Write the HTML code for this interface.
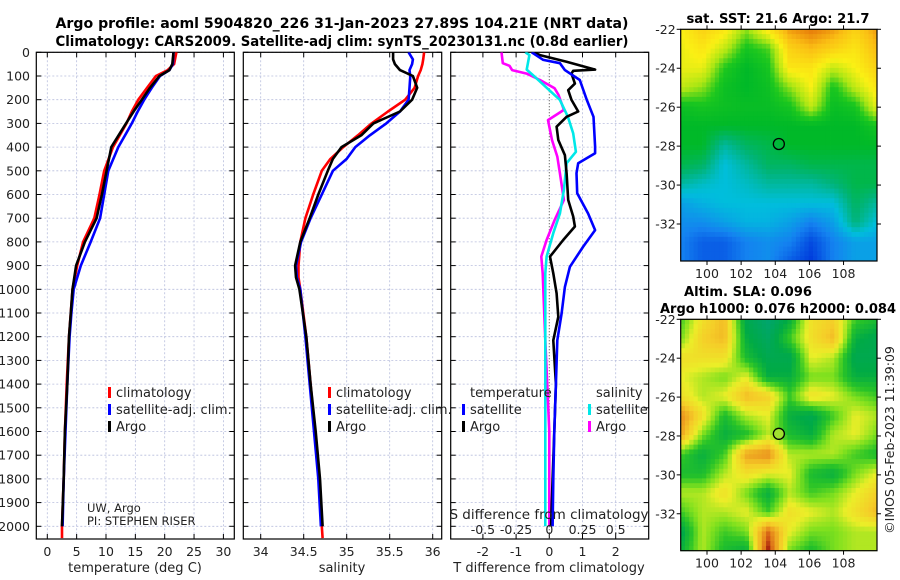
<!DOCTYPE html>
<html><head><meta charset="utf-8"><style>
html,body{margin:0;padding:0;background:#fff;}
svg{display:block;font-family:"DejaVu Sans","Liberation Sans",sans-serif;}
</style></head><body>
<svg id="fig" width="900" height="580" viewBox="0 0 900 580" xmlns="http://www.w3.org/2000/svg">
<text x="342" y="28" font-size="14" font-weight="bold" text-anchor="middle" textLength="573" lengthAdjust="spacingAndGlyphs">Argo profile: aoml 5904820_226 31-Jan-2023 27.89S 104.21E (NRT data)</text>
<text x="342" y="46" font-size="14" font-weight="bold" text-anchor="middle" textLength="573" lengthAdjust="spacingAndGlyphs">Climatology: CARS2009. Satellite-adj clim: synTS_20230131.nc (0.8d earlier)</text>
<g id="layer"></g>
</svg>
<script>
// ---- data ----
const tClimDepth=[0,50,75,100,150,200,250,300,400,500,600,700,800,900,1000,1100,1200,1400,1600,1800,2000,2050];
const tClim=[22.0,21.6,20.5,18.5,17.0,15.5,14.4,13.5,11.2,9.7,8.9,8.0,6.1,5.1,4.3,4.0,3.7,3.3,3.0,2.8,2.5,2.5];
const tDepth=[0,50,75,100,150,200,250,300,400,500,600,700,800,900,1000,1100,1200,1400,1600,1800,2000];
const tArgo=[21.5,21.3,20.8,19.1,17.5,16.1,14.7,13.4,10.9,10.1,9.3,8.4,6.4,4.9,4.3,4.0,3.7,3.4,3.0,2.8,2.5];
const tSat=[21.5,21.4,20.8,19.2,17.8,16.5,15.4,14.4,12.1,10.4,9.7,9.0,7.4,5.7,4.5,4.1,3.8,3.4,3.1,2.8,2.6];
const sClimDepth=[0,30,50,75,100,150,200,250,300,350,400,450,500,600,700,800,900,950,1000,1200,1400,1600,1800,2000,2050];
const sClim=[35.90,35.89,35.88,35.86,35.83,35.79,35.68,35.48,35.29,35.13,34.96,34.81,34.71,34.61,34.52,34.46,34.44,34.44,34.46,34.53,34.58,34.63,34.68,34.71,34.72];
const sDepth=[0,30,50,75,100,150,200,250,300,350,400,450,500,600,700,800,900,950,1000,1200,1400,1600,1800,2000];
const sArgo=[35.54,35.54,35.56,35.62,35.77,35.82,35.76,35.62,35.31,35.17,34.94,34.84,34.78,34.67,34.57,34.46,34.40,34.41,34.45,34.53,34.58,34.64,34.69,34.72];
const sSat=[35.72,35.77,35.76,35.73,35.74,35.73,35.72,35.62,35.46,35.27,35.10,35.00,34.84,34.71,34.58,34.47,34.41,34.42,34.46,34.52,34.57,34.62,34.67,34.70];
const dTSatDepth=[0,32,46,75,117,201,272,398,426,468,510,595,680,750,820,905,990,1102,1215,1400,1600,1800,2000];
const dTSat=[-0.53,-0.18,0.32,0.47,0.92,1.13,1.33,1.38,1.38,0.87,0.82,0.84,1.17,1.38,1.02,0.62,0.47,0.37,0.24,0.2,0.15,0.12,0.1];
const dTArgoDepth=[0,12,40,73,78,90,132,160,201,250,272,314,370,434,510,623,693,735,792,862,933,1017,1116,1215,1400,1600,1800,2000];
const dTArgo=[-0.48,-0.28,0.52,1.38,0.72,0.67,0.77,0.57,0.67,0.87,0.52,0.22,0.27,0.47,0.52,0.57,0.72,0.77,0.42,0.02,0.12,0.22,0.27,0.12,0.2,0.15,0.1,0.05];
const dSSatDepth=[0,12,73,103,160,201,272,342,420,468,580,680,763,862,933,1215,1600,2000];
const dSSat=[-0.18,-0.15,-0.17,-0.11,0.0,0.08,0.14,0.18,0.2,0.13,0.11,0.08,0.03,-0.02,-0.03,-0.03,-0.03,-0.03];
const dSArgoDepth=[0,46,57,75,90,117,152,180,243,286,370,440,510,623,708,792,862,933,1215,1600,2000];
const dSArgo=[-0.36,-0.35,-0.30,-0.28,-0.17,-0.07,0.04,0.07,0.11,-0.01,0.02,0.06,0.08,0.11,0.04,-0.02,-0.06,-0.05,-0.03,0.0,0.0];
const depthTicks=[0,100,200,300,400,500,600,700,800,900,1000,1100,1200,1300,1400,1500,1600,1700,1800,1900,2000];
const tTicks=[0,5,10,15,20,25,30];
const sTicks=[34,34.5,35,35.5,36];
const sTickLabels=["34","34.5","35","35.5","36"];
const dTTicks=[-2,-1,0,1,2];
const dSTicks=[-0.5,-0.25,0,0.25,0.5];
const dSTickLabels=["-0.5","-0.25","0","0.25","0.5"];
const latTicks=[-22,-24,-26,-28,-30,-32];
const lonTicks=[100,102,104,106,108];
const argoLon=104.21, argoLat=-27.89;
const sstGrid=[
[0.72,0.8,0.75,0.6,0.75,0.9,0.95,0.9,0.8,0.9],
[0.7,0.75,0.65,0.5,0.55,0.8,0.85,0.8,0.75,0.85],
[0.7,0.7,0.52,0.45,0.5,0.75,0.75,0.65,0.72,0.8],
[0.65,0.6,0.48,0.45,0.48,0.6,0.72,0.5,0.65,0.75],
[0.48,0.5,0.48,0.47,0.47,0.5,0.65,0.47,0.5,0.7],
[0.45,0.45,0.45,0.45,0.45,0.45,0.45,0.45,0.45,0.5],
[0.45,0.45,0.35,0.4,0.42,0.45,0.45,0.45,0.45,0.45],
[0.42,0.4,0.3,0.35,0.4,0.4,0.42,0.42,0.42,0.42],
[0.35,0.32,0.3,0.32,0.35,0.35,0.35,0.38,0.42,0.42],
[0.25,0.28,0.3,0.3,0.3,0.3,0.3,0.3,0.4,0.35],
[0.22,0.22,0.25,0.28,0.28,0.25,0.2,0.25,0.38,0.3],
[0.2,0.15,0.15,0.2,0.22,0.2,0.12,0.2,0.25,0.25],
[0.2,0.15,0.15,0.2,0.22,0.15,0.1,0.2,0.25,0.25]];
const slaGrid=[
[0.4,0.6,0.7,0.25,0.15,0.3,0.6,0.65,0.4,0.35],
[0.45,0.65,0.7,0.3,0.2,0.4,0.6,0.7,0.3,0.25],
[0.6,0.6,0.6,0.35,0.25,0.25,0.55,0.5,0.25,0.25],
[0.55,0.5,0.45,0.55,0.3,0.3,0.45,0.45,0.3,0.3],
[0.6,0.5,0.55,0.7,0.65,0.4,0.6,0.55,0.45,0.4],
[0.8,0.6,0.35,0.5,0.55,0.3,0.25,0.4,0.55,0.5],
[0.75,0.45,0.3,0.35,0.5,0.35,0.3,0.5,0.55,0.45],
[0.4,0.3,0.4,0.75,0.8,0.5,0.5,0.5,0.4,0.35],
[0.35,0.35,0.5,0.6,0.55,0.55,0.35,0.3,0.45,0.55],
[0.5,0.5,0.6,0.45,0.3,0.5,0.4,0.45,0.55,0.65],
[0.4,0.5,0.5,0.55,0.4,0.6,0.55,0.5,0.6,0.7],
[0.25,0.5,0.4,0.45,0.85,0.55,0.45,0.45,0.5,0.5],
[0.3,0.5,0.35,0.3,0.95,0.45,0.35,0.45,0.5,0.5]];

// ---- drawing ----
const NS='http://www.w3.org/2000/svg';
const layer=document.getElementById('layer');
function mk(tag,attrs,parent){const e=document.createElementNS(NS,tag);for(const k in attrs)e.setAttribute(k,attrs[k]);(parent||layer).appendChild(e);return e;}
const yTop=52.3, yBot=539, yPer=0.237;
const yD=d=>yTop+yPer*d;
const panels=[
 {name:'temperature-panel',x0:36.3,x1:234.3,sx:v=>47.3+5.87*v},
 {name:'salinity-panel',x0:243.3,x1:441.7,sx:v=>260.7+86*(v-34)},
 {name:'difference-panel',x0:450.7,x1:648.7,sx:v=>549.3+33.2*v}];
const ssx=v=>549.3+132.8*v;
const grid='#b8bedd';
panels.forEach((p,i)=>{
 const g=mk('g',{});
 
 
 const cp=mk('clipPath',{id:'clip'+i},g);
 mk('rect',{x:p.x0,y:yTop,width:p.x1-p.x0,height:yBot-yTop},cp);
 depthTicks.forEach(d=>{
  const l=mk('line',{x1:p.x0,x2:p.x1,y1:yD(d),y2:yD(d),stroke:grid,'stroke-width':0.8,'stroke-dasharray':'2,2'},g);
  
  
  mk('line',{x1:p.x0,x2:p.x0+5,y1:yD(d),y2:yD(d),stroke:'#000','stroke-width':1},g);
  mk('line',{x1:p.x1,x2:p.x1-5,y1:yD(d),y2:yD(d),stroke:'#000','stroke-width':1},g);
 });
 const xt=i===0?tTicks:(i===1?sTicks:dTTicks);
 xt.forEach((v,k)=>{
  const x=p.sx(v);
  if(!(i===2&&v===0)){
   const l=mk('line',{x1:x,x2:x,y1:yTop,y2:yBot,stroke:grid,'stroke-width':0.8,'stroke-dasharray':'2,2'},g);
   
   
  }
  mk('line',{x1:x,x2:x,y1:yBot,y2:yBot-5,stroke:'#000','stroke-width':1},g);
  mk('line',{x1:x,x2:x,y1:yTop,y2:yTop+5,stroke:'#000','stroke-width':1},g);
  const t=mk('text',{x:x,y:556,'font-size':12.5,'text-anchor':'middle',fill:'#222'},g);
  t.textContent=i===1?sTickLabels[k]:String(v);
  
  
 });
 const fr=mk('rect',{x:p.x0,y:yTop,width:p.x1-p.x0,height:yBot-yTop,fill:'none',stroke:'#000','stroke-width':1.2},g);
 
 
 p.g=g;
});
depthTicks.forEach(d=>{
 const t=mk('text',{x:30,y:yD(d)+4.5,'font-size':12.5,'text-anchor':'end',fill:'#222'});
 t.textContent=String(d);
 
 
});
function line(pi,depths,vals,sx,color,name,w){
 const pts=depths.map((d,k)=>sx(vals[k]).toFixed(1)+','+yD(d).toFixed(1)).join(' ');
 const pl=mk('polyline',{points:pts,fill:'none',stroke:color,'stroke-width':w||2.6,'stroke-linejoin':'round','clip-path':'url(#clip'+pi+')'},panels[pi].g);
 
 
}
const P=panels;
line(0,tClimDepth,tClim,P[0].sx,'#ff0000','temperature-climatology-line');
line(0,tDepth,tSat,P[0].sx,'#0000ff','temperature-satellite-line');
line(0,tDepth,tArgo,P[0].sx,'#000000','temperature-argo-line');
line(1,sClimDepth,sClim,P[1].sx,'#ff0000','salinity-climatology-line');
line(1,sDepth,sSat,P[1].sx,'#0000ff','salinity-satellite-line');
line(1,sDepth,sArgo,P[1].sx,'#000000','salinity-argo-line');
const zl=mk('line',{x1:P[2].sx(0),x2:P[2].sx(0),y1:yTop,y2:yBot,stroke:'#444','stroke-width':1,'stroke-dasharray':'1,2'},P[2].g);


line(2,dSArgoDepth,dSArgo,ssx,'#ff00ff','salinity-argo-difference-line');
line(2,dSSatDepth,dSSat,ssx,'#00e8e8','salinity-satellite-difference-line');
line(2,dTArgoDepth,dTArgo,P[2].sx,'#000000','temperature-argo-difference-line');
line(2,dTSatDepth,dTSat,P[2].sx,'#0000ff','temperature-satellite-difference-line');
dSTicks.forEach((v,k)=>{
 const t=mk('text',{x:ssx(v),y:534,'font-size':12.5,'text-anchor':'middle',fill:'#222'},P[2].g);
 t.textContent=dSTickLabels[k];
 
 
});
function txt(x,y,s,name,opt){const t=mk('text',Object.assign({x:x,y:y,'font-size':13,fill:'#222'},opt||{}));t.textContent=s;return t;}
txt(549,519,'S difference from climatology','s-diff-axis-title',{'text-anchor':'middle','font-size':13.5});
txt(135,572,'temperature (deg C)','temperature-axis-title',{'text-anchor':'middle'});
txt(342,572,'salinity','salinity-axis-title',{'text-anchor':'middle'});
txt(549,572,'T difference from climatology','t-diff-axis-title',{'text-anchor':'middle'});
txt(87,512,'UW, Argo','institution-label',{'font-size':11.5});
txt(87,525,'PI: STEPHEN RISER','pi-label',{'font-size':11.5});
function leg(x,y,color,label,name){
 const r=mk('rect',{x:x,y:y-10,width:3,height:11,fill:color});
 
 
 txt(x+8,y,label,name,{'font-size':13});
}
leg(108,397,'#ff0000','climatology','legend-climatology');
leg(108,414,'#0000ff','satellite-adj. clim.','legend-satellite-adj');
leg(108,431,'#000000','Argo','legend-argo');
leg(328,397,'#ff0000','climatology','legend-climatology-2');
leg(328,414,'#0000ff','satellite-adj. clim.','legend-satellite-adj-2');
leg(328,431,'#000000','Argo','legend-argo-2');
txt(470,397,'temperature','legend-temperature-header');
txt(596,397,'salinity','legend-salinity-header');
leg(462,414,'#0000ff','satellite','legend-t-satellite');
leg(462,431,'#000000','Argo','legend-t-argo');
leg(588,414,'#00e8e8','satellite','legend-s-satellite');
leg(588,431,'#ff00ff','Argo','legend-s-argo');

// ---- maps ----
const mx0=680.7,mx1=877,lon0=98.46,lon1=109.96,lat0=-22,lat1=-33.9;
function lerpC(stops,v){
 v=Math.max(stops[0][0],Math.min(stops[stops.length-1][0],v));
 for(let i=0;i<stops.length-1;i++){const a=stops[i],b=stops[i+1];if(v<=b[0]){const t=(v-a[0])/(b[0]-a[0]);return 'rgb('+[1,2,3].map(j=>Math.round(a[j]+(b[j]-a[j])*t)).join(',')+')';}}
}
const sstStops=[[0.1,0,60,220],[0.2,20,130,240],[0.3,0,190,220],[0.38,0,180,120],[0.45,0,185,40],[0.52,30,200,30],[0.62,170,230,20],[0.72,250,240,20],[0.85,250,190,20],[0.95,230,120,10]];
const slaStops=[[0.15,0,165,110],[0.28,0,170,70],[0.38,40,195,40],[0.46,130,225,30],[0.55,235,238,40],[0.66,245,205,40],[0.78,235,150,30],[0.88,210,90,20],[0.95,160,25,10]];
function map(name,top,bot,gridV,stops,title,titlePos,circleFill){
 const g=mk('g',{});
 
 
 const nx=46,ny=48,W=(mx1-mx0)/nx,H=(bot-top)/ny;
 const R=gridV.length,C=gridV[0].length;
 for(let j=0;j<ny;j++)for(let i=0;i<nx;i++){
  const fx=(i+0.5)/nx*(C-1),fy=(j+0.5)/ny*(R-1);
  const ix=Math.min(C-2,Math.floor(fx)),iy=Math.min(R-2,Math.floor(fy));
  const tx=fx-ix,ty=fy-iy;
  const v=(gridV[iy][ix]*(1-tx)+gridV[iy][ix+1]*tx)*(1-ty)+(gridV[iy+1][ix]*(1-tx)+gridV[iy+1][ix+1]*tx)*ty;
  mk('rect',{x:(mx0+i*W).toFixed(2),y:(top+j*H).toFixed(2),width:(W+0.4).toFixed(2),height:(H+0.4).toFixed(2),fill:lerpC(stops,v)},g);
 }
 const lx=v=>mx0+(v-lon0)/(lon1-lon0)*(mx1-mx0);
 const ly=v=>top+(v-lat0)/(lat1-lat0)*(bot-top);
 mk('rect',{x:mx0,y:top,width:mx1-mx0,height:bot-top,fill:'none',stroke:'#000','stroke-width':1.2},g);
 latTicks.forEach(v=>{
  mk('line',{x1:mx0-4,x2:mx0,y1:ly(v),y2:ly(v),stroke:'#000'},g);
  mk('line',{x1:mx1,x2:mx1+4,y1:ly(v),y2:ly(v),stroke:'#000'},g);
  const t=mk('text',{x:mx0-5,y:ly(v)+4.5,'font-size':12.5,'text-anchor':'end',fill:'#222'},g);
  t.textContent=String(v);
  
  
 });
 lonTicks.forEach(v=>{
  mk('line',{x1:lx(v),x2:lx(v),y1:bot,y2:bot+4,stroke:'#000'},g);
  mk('line',{x1:lx(v),x2:lx(v),y1:top,y2:top-4,stroke:'#000'},g);
  const t=mk('text',{x:lx(v),y:bot+17,'font-size':12.5,'text-anchor':'middle',fill:'#222'},g);
  t.textContent=String(v);
  
  
 });
 const c=mk('circle',{cx:lx(argoLon),cy:ly(argoLat),r:5.5,fill:circleFill,stroke:'#000','stroke-width':1.3},g);
 
 
 title.forEach((s,k)=>{
  const tp=titlePos[k];
  const t=mk('text',{x:tp[0],y:tp[1],'font-size':13.5,'font-weight':'bold','text-anchor':'middle',fill:'#000',textLength:tp[2],lengthAdjust:'spacingAndGlyphs'},g);
  t.textContent=s;
  
  
 });
}
map('sst-map',29.3,261,sstGrid,sstStops,['sat. SST: 21.6 Argo: 21.7'],[[778,23,183]],'none');
map('sla-map',319.3,550.7,slaGrid,slaStops,['Altim. SLA: 0.096','Argo h1000: 0.076 h2000: 0.084'],[[748,296,128],[778,313,236]],'#a0e030');
const cr=mk('text',{x:0,y:0,'font-size':12.5,fill:'#222','text-anchor':'middle',transform:'translate(894,440) rotate(-90)'});
cr.textContent='©IMOS 05-Feb-2023 11:39:09';


</script>
</body></html>
